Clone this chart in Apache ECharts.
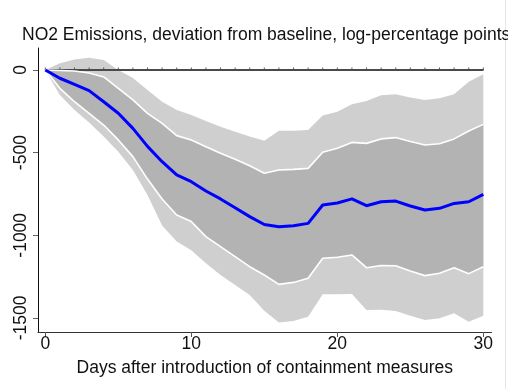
<!DOCTYPE html>
<html><head><meta charset="utf-8">
<script src="https://cdn.jsdelivr.net/npm/echarts@6/dist/echarts.min.js"></script>
<style>html,body{margin:0;padding:0;background:#fff}#c{width:508px;height:389px}</style>
</head><body><div id="c"></div>
<script>
var days = [];
for (var i = 0; i <= 30; i++) days.push(i);
var central = [0,-50,-87,-125,-192,-262,-353,-462,-555,-635,-676,-732,-780,-833,-887,-935,-948,-942,-928,-817,-805,-780,-821,-797,-793,-823,-847,-837,-807,-797,-752];
var innerUpper = [0,-3,-6,-18,-42,-111,-181,-262,-323,-397,-423,-464,-504,-540,-579,-625,-605,-601,-595,-498,-474,-438,-444,-417,-409,-433,-454,-446,-417,-369,-329];
var innerLower = [0,-111,-192,-262,-333,-423,-524,-660,-780,-877,-917,-1008,-1069,-1129,-1190,-1240,-1297,-1285,-1260,-1139,-1133,-1119,-1196,-1183,-1184,-1216,-1244,-1230,-1196,-1232,-1190];
var outerUpper = [0,40,64,74,60,0,-48,-121,-192,-242,-272,-309,-343,-373,-403,-428,-367,-367,-363,-276,-252,-208,-188,-153,-147,-167,-181,-171,-147,-71,-26];
var outerLower = [0,-151,-242,-317,-403,-494,-605,-756,-940,-1038,-1090,-1169,-1240,-1300,-1361,-1457,-1527,-1518,-1492,-1357,-1357,-1355,-1452,-1450,-1458,-1486,-1512,-1502,-1472,-1523,-1486];
var xTicks = [0,10,20,30];
var yTicks = [0,-500,-1000,-1500];
var titleText = 'NO2 Emissions, deviation from baseline, log-percentage points';
var xTitle = 'Days after introduction of containment measures';

function pairs(arr){ return arr.map(function(v,i){ return [days[i], v]; }); }

function bandSeries(lower, upper, color){
  return {
    type: 'custom', silent: true,
    data: days.map(function(d,i){ return [d, lower[i], upper[i]]; }),
    encode: {x: 0, y: [1,2]},
    renderItem: function(params, api){
      if (params.dataIndex !== 0) return null;
      var pts = [];
      for (var i = 0; i < days.length; i++) pts.push(api.coord([days[i], upper[i]]));
      for (var j = days.length - 1; j >= 0; j--) pts.push(api.coord([days[j], lower[j]]));
      return {type:'polygon', shape:{points: pts}, style:{fill: color, stroke: null}};
    }
  };
}

var FONT = '"Liberation Sans", Arial, sans-serif';
var FS = 17.5;
var chart = echarts.init(document.getElementById('c'), null, {renderer:'canvas'});
chart.setOption({
  animation: false,
  backgroundColor: '#fff',
  textStyle: {fontFamily: FONT},
  title: {text: titleText, left: 22, top: 26, padding: 0, textStyle:{fontFamily:FONT, fontSize:FS, fontWeight:'normal', color:'#111'}},
  grid: {left: 38, right: 16.5, top: 48, bottom: 57, containLabel:false},
  xAxis: {
    type: 'value', min: -0.5, max: 30.56,
    name: xTitle, nameLocation: 'middle', nameGap: 27,
    nameTextStyle: {fontFamily:FONT, fontSize:FS, color:'#111'},
    axisLine: {show:true, onZero:false, lineStyle:{color:'#333', width:1}},
    axisTick: {show:true, customValues: xTicks, length:5, lineStyle:{color:'#555'}},
    axisLabel: {customValues: xTicks, fontFamily:FONT, fontSize:FS, color:'#111', margin:3},
    splitLine: {show:false}
  },
  yAxis: {
    type: 'value', min: -1585, max: 133,
    axisLine: {show:true, onZero:false, lineStyle:{color:'#111', width:1}},
    axisTick: {show:true, customValues: yTicks, length:5, lineStyle:{color:'#666'}},
    axisLabel: {customValues: yTicks, rotate: 90, fontFamily:FONT, fontSize:FS, color:'#111', margin:8,
      formatter: function(v){ return String(v); }},
    splitLine: {show:false}
  },
  graphic: [{type:'line', shape:{x1:505.5,y1:0,x2:505.5,y2:389}, style:{stroke:'#e6e6e6', lineWidth:1}}],
  series: [
    bandSeries(outerLower, outerUpper, '#cfcfcf'),
    bandSeries(innerLower, innerUpper, '#b3b3b3'),
    {type:'line', data: [[0,0],[30,0]], symbol:'none', lineStyle:{color:'#4a4a4a', width:2}, silent:true},
    {type:'scatter', data: days.map(function(d){return [d,0];}), symbol:'rect', symbolSize:[1,3], symbolOffset:[0,-1], itemStyle:{color:'#333'}, silent:true},
    {type:'line', data: pairs(innerUpper), symbol:'none', lineStyle:{color:'#fff', width:1.6}, silent:true},
    {type:'line', data: pairs(innerLower), symbol:'none', lineStyle:{color:'#fff', width:1.6}, silent:true},
    {type:'line', data: pairs(central), symbol:'none', lineStyle:{color:'#0000ff', width:3}, silent:true}
  ]
});
</script></body></html>
